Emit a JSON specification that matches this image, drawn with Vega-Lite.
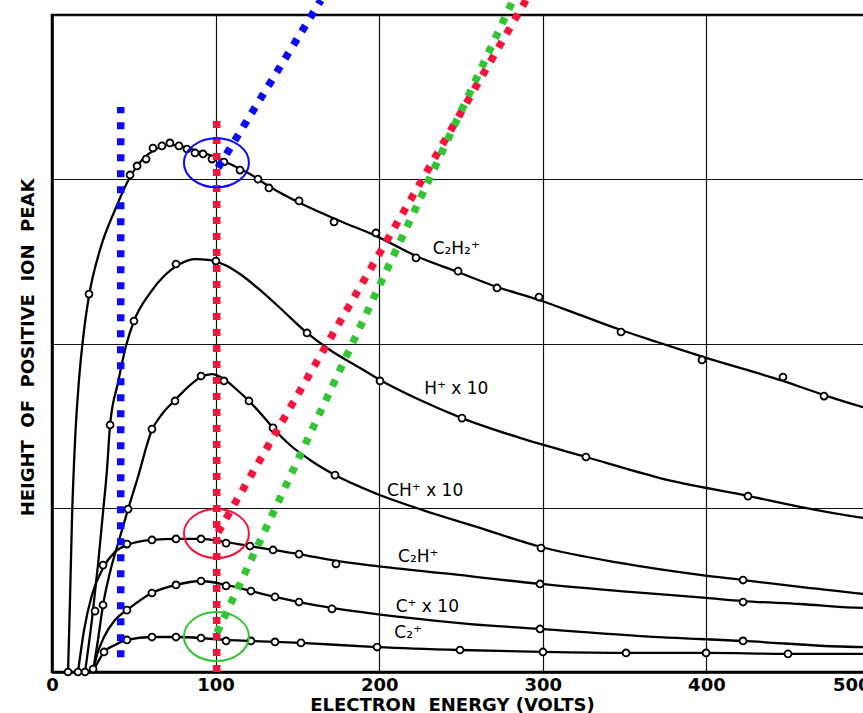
{
  "$schema": "https://vega.github.io/schema/vega-lite/v6.json",
  "width": 818,
  "height": 657,
  "autosize": {"type": "none"},
  "padding": {"left": 52, "top": 15, "right": 0, "bottom": 41},
  "background": "white",
  "config": {
    "view": {"stroke": "black", "strokeWidth": 2.5},
    "font": "DejaVu Sans"
  },
  "datasets": {
    "lines": [
      {"s": "C2H2", "v": 9.8, "h": 0.0},
      {"s": "C2H2", "v": 11.0, "h": 0.438},
      {"s": "C2H2", "v": 12.2, "h": 0.925},
      {"s": "C2H2", "v": 14.1, "h": 1.412},
      {"s": "C2H2", "v": 16.5, "h": 1.778},
      {"s": "C2H2", "v": 19.6, "h": 2.082},
      {"s": "C2H2", "v": 22.6, "h": 2.289},
      {"s": "C2H2", "v": 29.3, "h": 2.569},
      {"s": "C2H2", "v": 38.5, "h": 2.813},
      {"s": "C2H2", "v": 47.7, "h": 3.014},
      {"s": "C2H2", "v": 55.0, "h": 3.117},
      {"s": "C2H2", "v": 63.6, "h": 3.184},
      {"s": "C2H2", "v": 72.1, "h": 3.209},
      {"s": "C2H2", "v": 81.3, "h": 3.196},
      {"s": "C2H2", "v": 90.5, "h": 3.166},
      {"s": "C2H2", "v": 99.6, "h": 3.135},
      {"s": "C2H2", "v": 108.8, "h": 3.093},
      {"s": "C2H2", "v": 121.0, "h": 3.032},
      {"s": "C2H2", "v": 133.3, "h": 2.953},
      {"s": "C2H2", "v": 151.6, "h": 2.855},
      {"s": "C2H2", "v": 176.0, "h": 2.746},
      {"s": "C2H2", "v": 198.0, "h": 2.655},
      {"s": "C2H2", "v": 222.5, "h": 2.533},
      {"s": "C2H2", "v": 248.2, "h": 2.435},
      {"s": "C2H2", "v": 272.0, "h": 2.344},
      {"s": "C2H2", "v": 297.7, "h": 2.265},
      {"s": "C2H2", "v": 322.7, "h": 2.174},
      {"s": "C2H2", "v": 347.8, "h": 2.082},
      {"s": "C2H2", "v": 369.8, "h": 2.009},
      {"s": "C2H2", "v": 397.9, "h": 1.918},
      {"s": "C2H2", "v": 446.8, "h": 1.772},
      {"s": "C2H2", "v": 471.9, "h": 1.686},
      {"s": "C2H2", "v": 495.7, "h": 1.613},
      {"s": "C2H2", "v": 500.0, "h": 1.601},

      {"s": "H", "v": 20.2, "h": 0.0},
      {"s": "H", "v": 24.4, "h": 0.317},
      {"s": "H", "v": 28.1, "h": 0.651},
      {"s": "H", "v": 31.2, "h": 0.974},
      {"s": "H", "v": 33.6, "h": 1.23},
      {"s": "H", "v": 35.5, "h": 1.504},
      {"s": "H", "v": 40.3, "h": 1.76},
      {"s": "H", "v": 45.2, "h": 1.985},
      {"s": "H", "v": 50.1, "h": 2.137},
      {"s": "H", "v": 59.9, "h": 2.307},
      {"s": "H", "v": 69.1, "h": 2.417},
      {"s": "H", "v": 78.2, "h": 2.484},
      {"s": "H", "v": 87.4, "h": 2.514},
      {"s": "H", "v": 96.6, "h": 2.508},
      {"s": "H", "v": 105.7, "h": 2.478},
      {"s": "H", "v": 114.9, "h": 2.423},
      {"s": "H", "v": 127.1, "h": 2.326},
      {"s": "H", "v": 139.4, "h": 2.216},
      {"s": "H", "v": 155.9, "h": 2.064},
      {"s": "H", "v": 169.9, "h": 1.96},
      {"s": "H", "v": 188.3, "h": 1.851},
      {"s": "H", "v": 200.5, "h": 1.778},
      {"s": "H", "v": 224.9, "h": 1.656},
      {"s": "H", "v": 250.6, "h": 1.546},
      {"s": "H", "v": 286.1, "h": 1.425},
      {"s": "H", "v": 326.4, "h": 1.309},
      {"s": "H", "v": 371.6, "h": 1.181},
      {"s": "H", "v": 425.4, "h": 1.072},
      {"s": "H", "v": 457.2, "h": 1.005},
      {"s": "H", "v": 495.7, "h": 0.938},
      {"s": "H", "v": 500.0, "h": 0.932},

      {"s": "CH", "v": 25.1, "h": 0.006},
      {"s": "CH", "v": 28.1, "h": 0.195},
      {"s": "CH", "v": 31.2, "h": 0.408},
      {"s": "CH", "v": 35.5, "h": 0.609},
      {"s": "CH", "v": 41.0, "h": 0.804},
      {"s": "CH", "v": 46.5, "h": 0.992},
      {"s": "CH", "v": 52.0, "h": 1.169},
      {"s": "CH", "v": 61.1, "h": 1.473},
      {"s": "CH", "v": 67.8, "h": 1.577},
      {"s": "CH", "v": 75.2, "h": 1.656},
      {"s": "CH", "v": 83.1, "h": 1.735},
      {"s": "CH", "v": 91.1, "h": 1.796},
      {"s": "CH", "v": 97.8, "h": 1.814},
      {"s": "CH", "v": 105.1, "h": 1.784},
      {"s": "CH", "v": 112.5, "h": 1.723},
      {"s": "CH", "v": 120.4, "h": 1.65},
      {"s": "CH", "v": 127.8, "h": 1.571},
      {"s": "CH", "v": 135.1, "h": 1.486},
      {"s": "CH", "v": 145.5, "h": 1.382},
      {"s": "CH", "v": 157.7, "h": 1.291},
      {"s": "CH", "v": 173.0, "h": 1.199},
      {"s": "CH", "v": 198.7, "h": 1.084},
      {"s": "CH", "v": 220.7, "h": 1.005},
      {"s": "CH", "v": 261.6, "h": 0.877},
      {"s": "CH", "v": 298.9, "h": 0.761},
      {"s": "CH", "v": 347.2, "h": 0.664},
      {"s": "CH", "v": 396.1, "h": 0.591},
      {"s": "CH", "v": 422.4, "h": 0.56},
      {"s": "CH", "v": 457.2, "h": 0.518},
      {"s": "CH", "v": 495.7, "h": 0.475},
      {"s": "CH", "v": 500.0, "h": 0.469},

      {"s": "C2H", "v": 15.9, "h": 0.0},
      {"s": "C2H", "v": 19.6, "h": 0.256},
      {"s": "C2H", "v": 24.4, "h": 0.469},
      {"s": "C2H", "v": 31.2, "h": 0.633},
      {"s": "C2H", "v": 38.5, "h": 0.731},
      {"s": "C2H", "v": 45.8, "h": 0.773},
      {"s": "C2H", "v": 61.1, "h": 0.804},
      {"s": "C2H", "v": 75.8, "h": 0.81},
      {"s": "C2H", "v": 91.1, "h": 0.81},
      {"s": "C2H", "v": 106.4, "h": 0.791},
      {"s": "C2H", "v": 121.0, "h": 0.767},
      {"s": "C2H", "v": 135.1, "h": 0.743},
      {"s": "C2H", "v": 151.0, "h": 0.718},
      {"s": "C2H", "v": 173.6, "h": 0.676},
      {"s": "C2H", "v": 198.7, "h": 0.645},
      {"s": "C2H", "v": 243.3, "h": 0.597},
      {"s": "C2H", "v": 298.3, "h": 0.536},
      {"s": "C2H", "v": 347.2, "h": 0.493},
      {"s": "C2H", "v": 399.8, "h": 0.451},
      {"s": "C2H", "v": 422.4, "h": 0.432},
      {"s": "C2H", "v": 457.2, "h": 0.414},
      {"s": "C2H", "v": 495.7, "h": 0.39},
      {"s": "C2H", "v": 500.0, "h": 0.39},

      {"s": "C", "v": 25.1, "h": 0.006},
      {"s": "C", "v": 27.5, "h": 0.104},
      {"s": "C", "v": 31.8, "h": 0.213},
      {"s": "C", "v": 38.5, "h": 0.317},
      {"s": "C", "v": 45.8, "h": 0.377},
      {"s": "C", "v": 61.1, "h": 0.481},
      {"s": "C", "v": 75.8, "h": 0.53},
      {"s": "C", "v": 91.1, "h": 0.554},
      {"s": "C", "v": 106.4, "h": 0.53},
      {"s": "C", "v": 121.6, "h": 0.493},
      {"s": "C", "v": 136.3, "h": 0.457},
      {"s": "C", "v": 151.0, "h": 0.426},
      {"s": "C", "v": 171.1, "h": 0.39},
      {"s": "C", "v": 212.7, "h": 0.335},
      {"s": "C", "v": 255.5, "h": 0.292},
      {"s": "C", "v": 298.3, "h": 0.262},
      {"s": "C", "v": 359.4, "h": 0.219},
      {"s": "C", "v": 422.4, "h": 0.189},
      {"s": "C", "v": 495.7, "h": 0.152},
      {"s": "C", "v": 500.0, "h": 0.152},

      {"s": "C2", "v": 25.1, "h": 0.006},
      {"s": "C2", "v": 28.1, "h": 0.061},
      {"s": "C2", "v": 31.8, "h": 0.122},
      {"s": "C2", "v": 38.5, "h": 0.164},
      {"s": "C2", "v": 45.8, "h": 0.195},
      {"s": "C2", "v": 61.1, "h": 0.213},
      {"s": "C2", "v": 75.8, "h": 0.213},
      {"s": "C2", "v": 91.1, "h": 0.207},
      {"s": "C2", "v": 106.4, "h": 0.195},
      {"s": "C2", "v": 121.6, "h": 0.189},
      {"s": "C2", "v": 152.2, "h": 0.177},
      {"s": "C2", "v": 198.7, "h": 0.152},
      {"s": "C2", "v": 249.4, "h": 0.134},
      {"s": "C2", "v": 300.1, "h": 0.122},
      {"s": "C2", "v": 350.9, "h": 0.116},
      {"s": "C2", "v": 399.8, "h": 0.116},
      {"s": "C2", "v": 449.9, "h": 0.11},
      {"s": "C2", "v": 495.7, "h": 0.11},
      {"s": "C2", "v": 500.0, "h": 0.11}
    ],
    "points": [
      {"s": "C2H2", "v": 9.8, "h": 0.0},
      {"s": "C2H2", "v": 22.6, "h": 2.301},
      {"s": "C2H2", "v": 47.7, "h": 3.026},
      {"s": "C2H2", "v": 52.0, "h": 3.081},
      {"s": "C2H2", "v": 57.5, "h": 3.123},
      {"s": "C2H2", "v": 61.7, "h": 3.19},
      {"s": "C2H2", "v": 67.2, "h": 3.203},
      {"s": "C2H2", "v": 72.1, "h": 3.221},
      {"s": "C2H2", "v": 77.6, "h": 3.203},
      {"s": "C2H2", "v": 82.5, "h": 3.184},
      {"s": "C2H2", "v": 87.4, "h": 3.16},
      {"s": "C2H2", "v": 92.3, "h": 3.154},
      {"s": "C2H2", "v": 97.8, "h": 3.123},
      {"s": "C2H2", "v": 105.1, "h": 3.105},
      {"s": "C2H2", "v": 114.9, "h": 3.056},
      {"s": "C2H2", "v": 125.9, "h": 3.001},
      {"s": "C2H2", "v": 132.6, "h": 2.947},
      {"s": "C2H2", "v": 151.0, "h": 2.868},
      {"s": "C2H2", "v": 172.4, "h": 2.74},
      {"s": "C2H2", "v": 198.0, "h": 2.673},
      {"s": "C2H2", "v": 222.5, "h": 2.521},
      {"s": "C2H2", "v": 248.2, "h": 2.441},
      {"s": "C2H2", "v": 272.0, "h": 2.338},
      {"s": "C2H2", "v": 297.7, "h": 2.283},
      {"s": "C2H2", "v": 347.8, "h": 2.07},
      {"s": "C2H2", "v": 397.3, "h": 1.9},
      {"s": "C2H2", "v": 446.8, "h": 1.796},
      {"s": "C2H2", "v": 471.9, "h": 1.68},

      {"s": "H", "v": 20.2, "h": 0.0},
      {"s": "H", "v": 26.3, "h": 0.371},
      {"s": "H", "v": 35.5, "h": 1.504},
      {"s": "H", "v": 50.1, "h": 2.137},
      {"s": "H", "v": 75.8, "h": 2.484},
      {"s": "H", "v": 100.2, "h": 2.502},
      {"s": "H", "v": 155.9, "h": 2.064},
      {"s": "H", "v": 200.5, "h": 1.772},
      {"s": "H", "v": 250.6, "h": 1.546},
      {"s": "H", "v": 326.4, "h": 1.309},
      {"s": "H", "v": 425.4, "h": 1.071},

      {"s": "CH", "v": 31.2, "h": 0.408},
      {"s": "CH", "v": 46.5, "h": 0.992},
      {"s": "CH", "v": 61.1, "h": 1.479},
      {"s": "CH", "v": 75.2, "h": 1.65},
      {"s": "CH", "v": 91.1, "h": 1.802},
      {"s": "CH", "v": 105.1, "h": 1.772},
      {"s": "CH", "v": 120.4, "h": 1.65},
      {"s": "CH", "v": 135.1, "h": 1.486},
      {"s": "CH", "v": 173.0, "h": 1.199},
      {"s": "CH", "v": 298.9, "h": 0.755},
      {"s": "CH", "v": 422.4, "h": 0.56},

      {"s": "C2H", "v": 15.9, "h": 0.0},
      {"s": "C2H", "v": 31.2, "h": 0.651},
      {"s": "C2H", "v": 45.8, "h": 0.779},
      {"s": "C2H", "v": 61.1, "h": 0.804},
      {"s": "C2H", "v": 75.8, "h": 0.81},
      {"s": "C2H", "v": 91.1, "h": 0.81},
      {"s": "C2H", "v": 106.4, "h": 0.785},
      {"s": "C2H", "v": 121.0, "h": 0.767},
      {"s": "C2H", "v": 135.1, "h": 0.743},
      {"s": "C2H", "v": 151.0, "h": 0.718},
      {"s": "C2H", "v": 173.6, "h": 0.658},
      {"s": "C2H", "v": 298.3, "h": 0.536},
      {"s": "C2H", "v": 422.4, "h": 0.426},

      {"s": "C", "v": 45.8, "h": 0.377},
      {"s": "C", "v": 61.1, "h": 0.481},
      {"s": "C", "v": 75.8, "h": 0.53},
      {"s": "C", "v": 91.1, "h": 0.554},
      {"s": "C", "v": 106.4, "h": 0.524},
      {"s": "C", "v": 121.6, "h": 0.493},
      {"s": "C", "v": 136.3, "h": 0.457},
      {"s": "C", "v": 151.0, "h": 0.426},
      {"s": "C", "v": 171.1, "h": 0.384},
      {"s": "C", "v": 298.3, "h": 0.262},
      {"s": "C", "v": 422.4, "h": 0.189},

      {"s": "C2", "v": 25.1, "h": 0.018},
      {"s": "C2", "v": 31.8, "h": 0.122},
      {"s": "C2", "v": 45.8, "h": 0.195},
      {"s": "C2", "v": 61.1, "h": 0.213},
      {"s": "C2", "v": 75.8, "h": 0.213},
      {"s": "C2", "v": 91.1, "h": 0.207},
      {"s": "C2", "v": 106.4, "h": 0.189},
      {"s": "C2", "v": 121.6, "h": 0.189},
      {"s": "C2", "v": 136.3, "h": 0.183},
      {"s": "C2", "v": 152.2, "h": 0.177},
      {"s": "C2", "v": 198.7, "h": 0.152},
      {"s": "C2", "v": 249.4, "h": 0.134},
      {"s": "C2", "v": 300.1, "h": 0.122},
      {"s": "C2", "v": 350.9, "h": 0.116},
      {"s": "C2", "v": 399.8, "h": 0.116},
      {"s": "C2", "v": 449.9, "h": 0.11}
    ],
    "dots": [
      {"g": "bv", "c": "blue", "v": 42.0, "h": 0.09},
      {"g": "bv", "c": "blue", "v": 42.0, "h": 3.44},
      {"g": "rv", "c": "red", "v": 100.7, "h": 0.0},
      {"g": "rv", "c": "red", "v": 100.7, "h": 3.37},
      {"g": "bd", "c": "blue", "v": 101.5, "h": 3.07},
      {"g": "bd", "c": "blue", "v": 164.4, "h": 4.09},
      {"g": "rd", "c": "red", "v": 101.5, "h": 0.85},
      {"g": "rd", "c": "red", "v": 289.7, "h": 4.09},
      {"g": "gd", "c": "green", "v": 100.9, "h": 0.24},
      {"g": "gd", "c": "green", "v": 281.8, "h": 4.09}
    ],
    "rings": [
      {"c": "blue", "v": 100.5, "h": 3.1},
      {"c": "red", "v": 100.5, "h": 0.843},
      {"c": "green", "v": 100.5, "h": 0.216}
    ],
    "labels": [
      {"t": "C₂H₂⁺", "v": 247.1, "h": 2.573},
      {"t": "H⁺ x 10", "v": 247.1, "h": 1.726},
      {"t": "CH⁺ x 10", "v": 228.1, "h": 1.104},
      {"t": "C₂H⁺", "v": 223.9, "h": 0.701},
      {"t": "C⁺ x 10", "v": 229.4, "h": 0.396},
      {"t": "C₂⁺", "v": 217.7, "h": 0.238}
    ]
  },
  "encoding": {
    "x": {
      "field": "v",
      "type": "quantitative",
      "scale": {"domain": [0, 500], "nice": false, "zero": false},
      "axis": {
        "values": [0, 100, 200, 300, 400, 500],
        "grid": true,
        "gridColor": "#111111",
        "gridWidth": 1.2,
        "gridOpacity": 1,
        "ticks": false,
        "domain": true,
        "domainColor": "black",
        "domainWidth": 2.5,
        "labelFont": "DejaVu Sans",
        "labelFontSize": 18,
        "labelFontWeight": "bold",
        "labelColor": "black",
        "labelPadding": 4,
        "labelBaseline": "top",
        "labelFlush": false,
        "labelOverlap": false,
        "labelAlign": {"condition": {"test": "datum.value === 500", "value": "right"}, "value": "center"},
        "title": "ELECTRON\u00a0 ENERGY (VOLTS)",
        "titleFont": "DejaVu Sans",
        "titleFontSize": 18,
        "titleFontWeight": "bold",
        "titleColor": "black",
        "titleX": 400,
        "titleY": 38,
        "titleAlign": "center",
        "titleBaseline": "alphabetic"
      }
    },
    "y": {
      "field": "h",
      "type": "quantitative",
      "scale": {"domain": [0, 4], "nice": false, "zero": false},
      "axis": {
        "values": [0, 1, 2, 3, 4],
        "grid": true,
        "gridColor": "#111111",
        "gridWidth": 1.2,
        "gridOpacity": 1,
        "ticks": false,
        "labels": false,
        "domain": true,
        "domainColor": "black",
        "domainWidth": 2.5,
        "title": "HEIGHT\u00a0 OF\u00a0 POSITIVE\u00a0 ION\u00a0 PEAK",
        "titleFont": "DejaVu Sans",
        "titleFontSize": 18,
        "titleFontWeight": "bold",
        "titleColor": "black",
        "titleAngle": 270,
        "titleX": -24,
        "titleY": 332,
        "titleAlign": "center",
        "titleBaseline": "middle"
      }
    }
  },
  "layer": [
    {
      "data": {"name": "lines"},
      "mark": {"type": "line", "interpolate": "monotone", "color": "black", "strokeWidth": 2.3},
      "encoding": {"detail": {"field": "s"}}
    },
    {
      "data": {"name": "points"},
      "mark": {"type": "point", "shape": "circle", "filled": true, "fill": "white", "stroke": "black", "strokeWidth": 1.8, "size": 48, "opacity": 1}
    },
    {
      "data": {"name": "dots"},
      "mark": {"type": "line", "strokeWidth": 7.5, "strokeDash": [7, 9], "strokeCap": "butt"},
      "encoding": {
        "detail": {"field": "g"},
        "order": {"field": "h", "type": "quantitative"},
        "color": {"field": "c", "type": "nominal", "scale": {"domain": ["blue", "red", "green"], "range": ["#0a0af5", "#f5143c", "#33c433"]}, "legend": null}
      }
    },
    {
      "data": {"name": "rings"},
      "mark": {"type": "point", "shape": "M -1 0 A 1 0.754 0 1 0 1 0 A 1 0.754 0 1 0 -1 0 Z", "filled": false, "strokeWidth": 2, "size": 4225, "opacity": 1},
      "encoding": {
        "color": {"field": "c", "type": "nominal", "scale": {"domain": ["blue", "red", "green"], "range": ["#0a0af5", "#f5143c", "#33c433"]}, "legend": null}
      }
    },
    {
      "data": {"name": "labels"},
      "mark": {"type": "text", "font": "DejaVu Sans", "fontSize": 17, "color": "black", "align": "center", "baseline": "middle"},
      "encoding": {"text": {"field": "t"}}
    }
  ]
}
